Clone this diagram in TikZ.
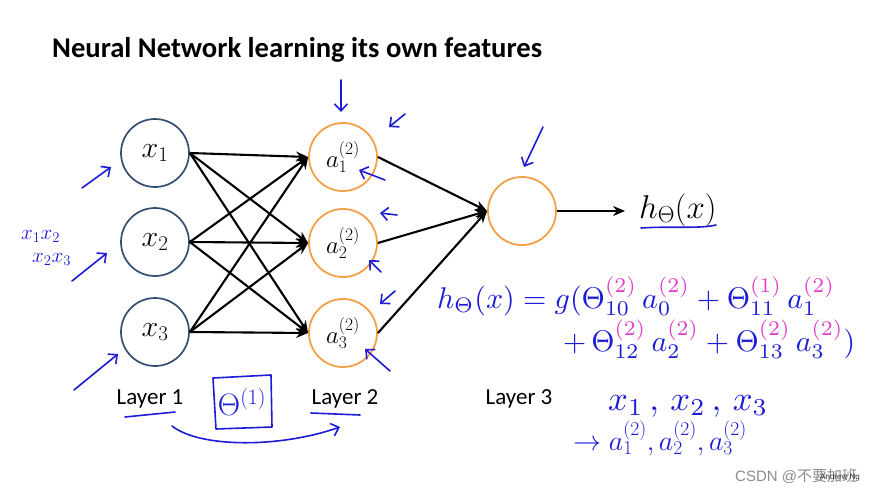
\RequirePackage{fix-cm}
\documentclass[tikz,border=0pt]{standalone}
\usepackage{fontspec}
\usepackage{graphicx}
\setmainfont{Carlito}
\newfontfamily\cjk{Noto Sans CJK SC}
\newfontfamily\wmfont{Liberation Sans}
\usetikzlibrary{arrows.meta}
\definecolor{lonecol}{RGB}{52,78,112}
\definecolor{orangecol}{RGB}{244,160,70}
\definecolor{hwblue}{RGB}{28,28,215}
\definecolor{hwpink}{RGB}{228,60,205}
\newcommand{\pk}[1]{{\color{hwpink}#1}}
\begin{document}
\begin{tikzpicture}[x=1pt,y=-1pt,
  inode/.style={circle, draw=lonecol, line width=1.7pt, minimum size=68pt, inner sep=0pt, font=\fontsize{30}{32}\selectfont},
  hnode/.style={circle, draw=orangecol, line width=1.8pt, minimum size=68pt, inner sep=0pt, font=\fontsize{25}{27}\selectfont},
  edge/.style={-{Stealth[length=12pt,width=10pt]}, line width=2.1pt},
  lay/.style={font=\fontsize{23}{25}\selectfont, anchor=base, inner sep=0pt},
  hw/.style={draw=hwblue, line width=1.6pt, line cap=round, line join=round},
  hwa/.style={hw, -{Straight Barb[length=7pt,width=13pt,line width=1.6pt]}},
  hwtext/.style={text=hwblue, inner sep=0pt}
]
\useasboundingbox (0,0) rectangle (890,495);
\fill[white] (0,0) rectangle (890,495);

% title
\node[font=\bfseries\fontsize{28.6}{31}\selectfont, anchor=base west, inner sep=0pt] (title) at (52,57) {Neural Network learning its own features};

% layer 1
\node[inode] (x1) at (155,153) {$x_1$};
\node[inode] (x2) at (155,242) {$x_2$};
\node[inode] (x3) at (155,332) {$x_3$};
% layer 2
\node[hnode] (a1) at (343,157) {$a^{(2)}_1$};
\node[hnode] (a2) at (343,243) {$a^{(2)}_2$};
\node[hnode] (a3) at (343,333) {$a^{(2)}_3$};
% layer 3
\node[hnode] (o) at (522,211) {};
% output
\node[anchor=base west, inner sep=0pt, font=\fontsize{33}{35}\selectfont] (h) at (639,218) {$h_\Theta(x)$};

\foreach \i in {1,2,3}{
  \foreach \j in {1,2,3}{
    \draw[edge] (x\i.east) -- (a\j.west);
  }
  \draw[edge] (a\i.east) -- (o.west);
}
\coordinate (hin) at (625,211);
\draw[edge] (o.east) -- (hin);

% layer labels
\node[lay] (l1) at (150,404) {Layer 1};
\node[lay] (l2) at (345,404) {Layer 2};
\node[lay] (l3) at (519,404) {Layer 3};

% ---- handwritten annotations ----
% arrows toward inputs
\draw[hwa] (82,188) -- (111,167);
\draw[hwa] (72,281) -- (107,253);
\draw[hwa] (74,390) -- (118,354);
\node[hwtext, anchor=base west] (p12) at (21,239) {\fontsize{21}{21}\selectfont$x_1x_2$};
\node[hwtext, anchor=base west] (p23) at (32,262) {\fontsize{21}{21}\selectfont$x_2x_3$};

% arrows toward hidden units
\draw[hwa] (341,80) -- (341,112);
\draw[hwa] (405,114) -- (389,127);
\draw[hwa] (385,180) -- (359,170);
\draw[hwa] (397,215) -- (380,213);
\draw[hwa] (381,272) -- (369,260);
\draw[hwa] (395,291) -- (380,304);
\draw[hwa] (390,371) -- (365,349);
% arrow toward output unit
\draw[hwa] (543,127) -- (524,167);

% underline of h
\draw[hw] (641,228) .. controls (670,226) and (700,229) .. (716,225);
% underlines of layer labels
\draw[hw] (125,417) -- (175,412);
\draw[hw] (311,413) -- (360,415);
% theta box
\draw[hw] (213,378) -- (271,375) -- (272,427) -- (216,429) -- cycle;
\node[hwtext] (th) at (242,402) {\fontsize{31}{31}\selectfont$\Theta^{(1)}$};
% curved arrow layer1 -> layer2
\draw[hwa] (172,426) .. controls (200,448) and (280,448) .. (340,427);

% equation
\node[hwtext, anchor=base west] (eq1) at (437,308) {\resizebox{398pt}{!}{$h_\Theta(x) = g(\Theta^{\pk{(2)}}_{10}\,a_0^{\pk{(2)}} + \Theta^{\pk{(1)}}_{11}\,a_1^{\pk{(2)}}$}};
\node[hwtext, anchor=base west] (eq2) at (563,351) {\resizebox{292pt}{!}{$+\,\Theta^{\pk{(2)}}_{12}\,a_2^{\pk{(2)}} + \Theta^{\pk{(2)}}_{13}\,a_3^{\pk{(2)}})$}};

% x1,x2,x3 -> a's
\node[hwtext, anchor=base west] (xs) at (608,410) {\resizebox{160pt}{!}{$x_1\,,\,x_2\,,\,x_3$}};
\node[hwtext, anchor=base west] (as) at (573,450) {\fontsize{28}{28}\selectfont$\to a_1^{(2)}, a_2^{(2)}, a_3^{(2)}$};

% watermark
\node[anchor=base west, inner sep=0pt, text=black!45, font=\fontsize{15}{15}\selectfont] (wm) at (735,481) {\wmfont CSDN @\cjk 不要加班};
\node[anchor=base, inner sep=0pt, text=black!80, font=\fontsize{8}{8}\selectfont] (ang) at (840,479) {\wmfont Andrew Ng};
\end{tikzpicture}
\end{document}
